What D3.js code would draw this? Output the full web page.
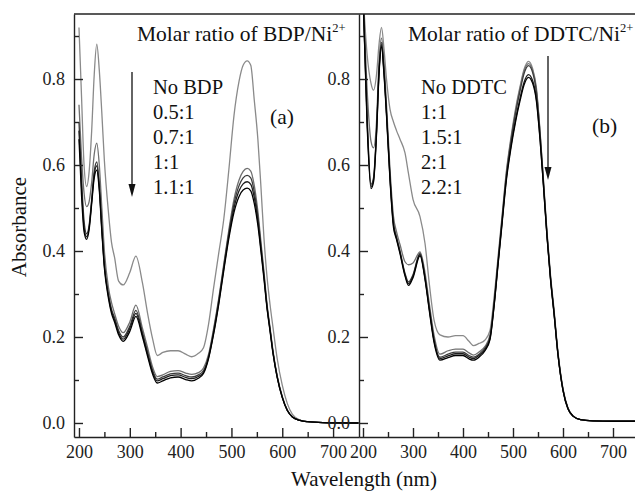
<!DOCTYPE html>
<html><head><meta charset="utf-8">
<script src="https://cdn.jsdelivr.net/npm/d3@7"></script>
<style>body{margin:0;background:#fff}svg{display:block}</style>
</head><body>
<svg id="c" width="635" height="492"></svg>
<script>
// ---------- DATA ----------
const wlA = [200,205,210,215,220,225,230,235,240,245,250,258,264,270,278,287,300,312,325,335,345,354,365,380,395,410,422,435,445,455,465,475,485,495,505,515,523,531,538,545,552,558,564,570,576,582,590,600,610,620,635,650,680,750];
const bdpNone = [0.92,0.76,0.6,0.55,0.585,0.68,0.81,0.881,0.82,0.72,0.61,0.49,0.42,0.385,0.33,0.321,0.35,0.388,0.325,0.255,0.195,0.157,0.164,0.168,0.168,0.16,0.154,0.162,0.175,0.23,0.315,0.395,0.475,0.59,0.715,0.795,0.832,0.842,0.832,0.75,0.66,0.55,0.43,0.34,0.275,0.22,0.15,0.088,0.045,0.02,0.007,0.003,0.001,0.0];
const bdp05 = [0.74,0.62,0.535,0.503,0.515,0.56,0.625,0.651,0.6,0.5,0.4,0.315,0.28,0.255,0.225,0.21,0.235,0.274,0.22,0.175,0.13,0.108,0.112,0.12,0.122,0.116,0.113,0.117,0.128,0.16,0.22,0.29,0.37,0.45,0.52,0.565,0.585,0.592,0.586,0.552,0.492,0.422,0.352,0.277,0.222,0.166,0.11,0.062,0.03,0.014,0.006,0.003,0.001,0.0];
const bdp07 = [0.7,0.57,0.47,0.44,0.46,0.52,0.585,0.607,0.555,0.455,0.37,0.3,0.265,0.245,0.215,0.2,0.225,0.262,0.21,0.165,0.122,0.102,0.107,0.114,0.116,0.11,0.107,0.112,0.122,0.155,0.215,0.285,0.365,0.443,0.51,0.552,0.57,0.576,0.57,0.537,0.48,0.413,0.345,0.272,0.218,0.163,0.108,0.06,0.029,0.014,0.006,0.003,0.001,0.0];
const bdp10 = [0.68,0.55,0.455,0.433,0.455,0.515,0.578,0.598,0.548,0.45,0.365,0.295,0.26,0.24,0.21,0.195,0.22,0.255,0.205,0.16,0.118,0.098,0.103,0.11,0.112,0.106,0.103,0.108,0.118,0.152,0.21,0.28,0.36,0.436,0.5,0.54,0.556,0.561,0.555,0.524,0.47,0.406,0.34,0.27,0.216,0.162,0.107,0.06,0.029,0.014,0.006,0.003,0.001,0.0];
const bdp11 = [0.66,0.53,0.445,0.427,0.45,0.51,0.57,0.588,0.54,0.445,0.36,0.29,0.255,0.235,0.205,0.19,0.213,0.248,0.2,0.155,0.113,0.093,0.098,0.105,0.107,0.101,0.098,0.104,0.115,0.15,0.207,0.276,0.355,0.43,0.49,0.527,0.542,0.546,0.54,0.51,0.46,0.4,0.335,0.267,0.213,0.16,0.106,0.059,0.029,0.014,0.006,0.003,0.001,0.0];
const labelsA = ["No BDP","0.5:1","0.7:1","1:1","1.1:1"];

const wlB = [200,208,216,221,227,232,237,242,247,254,261,267,274,284,291,300,314,324,333,342,354,370,385,400,412,421,432,444,454,462,470,478,487,496,505,514,522,531,539,547,554,561,568,575,582,590,600,610,620,635,660,700,750];
const ddtcNone = [1.0,0.86,0.79,0.774,0.81,0.88,0.92,0.87,0.8,0.73,0.7,0.68,0.66,0.628,0.58,0.52,0.48,0.418,0.32,0.24,0.205,0.2,0.203,0.203,0.19,0.18,0.185,0.193,0.215,0.29,0.385,0.48,0.588,0.665,0.73,0.782,0.822,0.841,0.825,0.778,0.68,0.565,0.445,0.345,0.265,0.165,0.08,0.035,0.017,0.008,0.005,0.004,0.004];
const ddtc11 = [1.0,0.78,0.655,0.64,0.7,0.84,0.895,0.84,0.74,0.59,0.48,0.445,0.415,0.375,0.368,0.372,0.398,0.35,0.275,0.205,0.16,0.168,0.172,0.172,0.163,0.158,0.165,0.178,0.205,0.28,0.378,0.475,0.583,0.66,0.725,0.778,0.818,0.836,0.821,0.772,0.677,0.56,0.44,0.34,0.26,0.162,0.078,0.034,0.016,0.008,0.005,0.004,0.004];
const ddtc15 = [1.0,0.72,0.555,0.57,0.68,0.82,0.885,0.82,0.725,0.575,0.465,0.433,0.4,0.348,0.328,0.345,0.395,0.34,0.265,0.195,0.153,0.16,0.165,0.165,0.157,0.153,0.16,0.174,0.2,0.275,0.373,0.47,0.578,0.655,0.72,0.772,0.812,0.831,0.816,0.768,0.674,0.557,0.438,0.338,0.258,0.16,0.077,0.033,0.016,0.008,0.005,0.004,0.004];
const ddtc20 = [1.0,0.71,0.55,0.565,0.675,0.815,0.88,0.815,0.72,0.57,0.46,0.43,0.397,0.345,0.324,0.342,0.392,0.337,0.262,0.192,0.15,0.156,0.161,0.161,0.153,0.15,0.157,0.171,0.197,0.272,0.37,0.466,0.572,0.645,0.705,0.755,0.792,0.81,0.797,0.752,0.664,0.552,0.435,0.336,0.256,0.159,0.076,0.033,0.016,0.008,0.005,0.004,0.004];
const ddtc22 = [1.0,0.7,0.545,0.56,0.67,0.81,0.875,0.81,0.715,0.565,0.455,0.427,0.394,0.342,0.32,0.338,0.389,0.334,0.258,0.188,0.146,0.152,0.157,0.157,0.149,0.146,0.153,0.168,0.194,0.27,0.367,0.462,0.567,0.64,0.7,0.749,0.786,0.804,0.791,0.747,0.66,0.55,0.433,0.334,0.255,0.158,0.076,0.033,0.016,0.008,0.005,0.004,0.004];
const labelsB = ["No DDTC","1:1","1.5:1","2:1","2.2:1"];

const xTicks = [200,300,400,500,600,700];
const xMinor = [250,350,450,550,650];
const yTicks = [0.0,0.2,0.4,0.6,0.8];
const yMinor = [0.1,0.3,0.5,0.7,0.9];

// ---------- LAYOUT ----------
const svg = d3.select("#c");
const FONT = "Liberation Serif, Times New Roman, serif";
const topY = 14, bottomY = 437, aL = 74, mid = 359, W = 635;
const colors = ["#8a8a8a","#707070","#3c3c3c","#1e1e1e","#000000"];

const y = d3.scaleLinear().domain([-0.0326, 0.9512]).range([bottomY, topY]);
const xA = d3.scaleLinear().domain([190.2, 751]).range([aL, mid]);
const xB = d3.scaleLinear().domain([192, 750]).range([mid, 638]);

const defs = svg.append("defs");
defs.append("clipPath").attr("id","clipA").append("rect").attr("x",aL).attr("y",topY).attr("width",mid-aL).attr("height",bottomY-topY);
defs.append("clipPath").attr("id","clipB").append("rect").attr("x",mid).attr("y",topY).attr("width",W-mid).attr("height",bottomY-topY);

function drawCurves(x, wl, series, clip){
  const g = svg.append("g").attr("clip-path",`url(#${clip})`);
  series.forEach((s,i)=>{
    const line = d3.line().x((d,j)=>x(wl[j])).y(d=>y(d)).curve(d3.curveMonotoneX);
    g.append("path").attr("d", line(s)).attr("fill","none")
      .attr("stroke", colors[i]).attr("stroke-width", 1.3);
  });
}
drawCurves(xA, wlA, [bdpNone,bdp05,bdp07,bdp10,bdp11], "clipA");
drawCurves(xB, wlB, [ddtcNone,ddtc11,ddtc15,ddtc20,ddtc22], "clipB");

function styleAxis(g){
  g.attr("font-family", FONT).attr("font-size", 18);
  g.selectAll("path,line").attr("stroke","#222").attr("stroke-width",1.4);
  g.selectAll("text").attr("fill","#222");
}
[aL, mid].forEach(px=>{
  svg.append("g").attr("transform",`translate(${px},0)`)
    .call(d3.axisLeft(y).tickValues(yTicks).tickFormat(d3.format(".1f")).tickSize(-9).tickSizeOuter(0).tickPadding(9))
    .call(styleAxis);
  svg.append("g").attr("transform",`translate(${px},0)`)
    .call(d3.axisLeft(y).tickValues(yMinor).tickFormat("").tickSize(-5).tickSizeOuter(0))
    .call(styleAxis).call(g=>g.select(".domain").remove());
});
[xA, xB].forEach(x=>{
  svg.append("g").attr("transform",`translate(0,${bottomY})`)
    .call(d3.axisBottom(x).tickValues(xTicks).tickSize(-9).tickSizeOuter(0).tickPadding(8))
    .call(styleAxis);
  svg.append("g").attr("transform",`translate(0,${bottomY})`)
    .call(d3.axisBottom(x).tickValues(xMinor).tickFormat("").tickSize(-5).tickSizeOuter(0))
    .call(styleAxis).call(g=>g.select(".domain").remove());
});
svg.append("line").attr("x1",aL).attr("x2",W).attr("y1",topY).attr("y2",topY).attr("stroke","#222").attr("stroke-width",1.4);

// ---------- TEXT ----------
function title(x0, name){
  const t = svg.append("text").attr("x",x0).attr("y",41).attr("font-family",FONT).attr("font-size",21.5).attr("fill","#111");
  t.append("tspan").text(`Molar ratio of ${name}/Ni`);
  t.append("tspan").text("2+").attr("font-size",12.5).attr("dy",-9);
}
title(137, "BDP");
title(408, "DDTC");

function legend(x0, labels){
  svg.append("g").selectAll("text").data(labels).join("text")
    .attr("x",x0).attr("y",(d,i)=>94+25*i).attr("font-family",FONT).attr("font-size",20.5).attr("fill","#111")
    .text(d=>d);
}
legend(153, labelsA);
legend(421, labelsB);

svg.append("text").attr("x",270).attr("y",124).attr("font-family",FONT).attr("font-size",21.5).attr("fill","#111").text("(a)");
svg.append("text").attr("x",592).attr("y",133).attr("font-family",FONT).attr("font-size",21.5).attr("fill","#111").text("(b)");

function arrow(x0, y0, y1){
  svg.append("line").attr("x1",x0).attr("x2",x0).attr("y1",y0).attr("y2",y1-10).attr("stroke","#111").attr("stroke-width",1.3);
  svg.append("path").attr("d",`M${x0-3.5},${y1-13}L${x0+3.5},${y1-13}L${x0},${y1}Z`).attr("fill","#111");
}
arrow(132, 72, 197);
arrow(548, 56, 180);

svg.append("text").attr("transform","translate(26,227) rotate(-90)").attr("text-anchor","middle")
  .attr("font-family",FONT).attr("font-size",21).attr("fill","#111").text("Absorbance");
svg.append("text").attr("x",364).attr("y",486).attr("text-anchor","middle")
  .attr("font-family",FONT).attr("font-size",21).attr("fill","#111").text("Wavelength (nm)");
</script>
</body></html>
